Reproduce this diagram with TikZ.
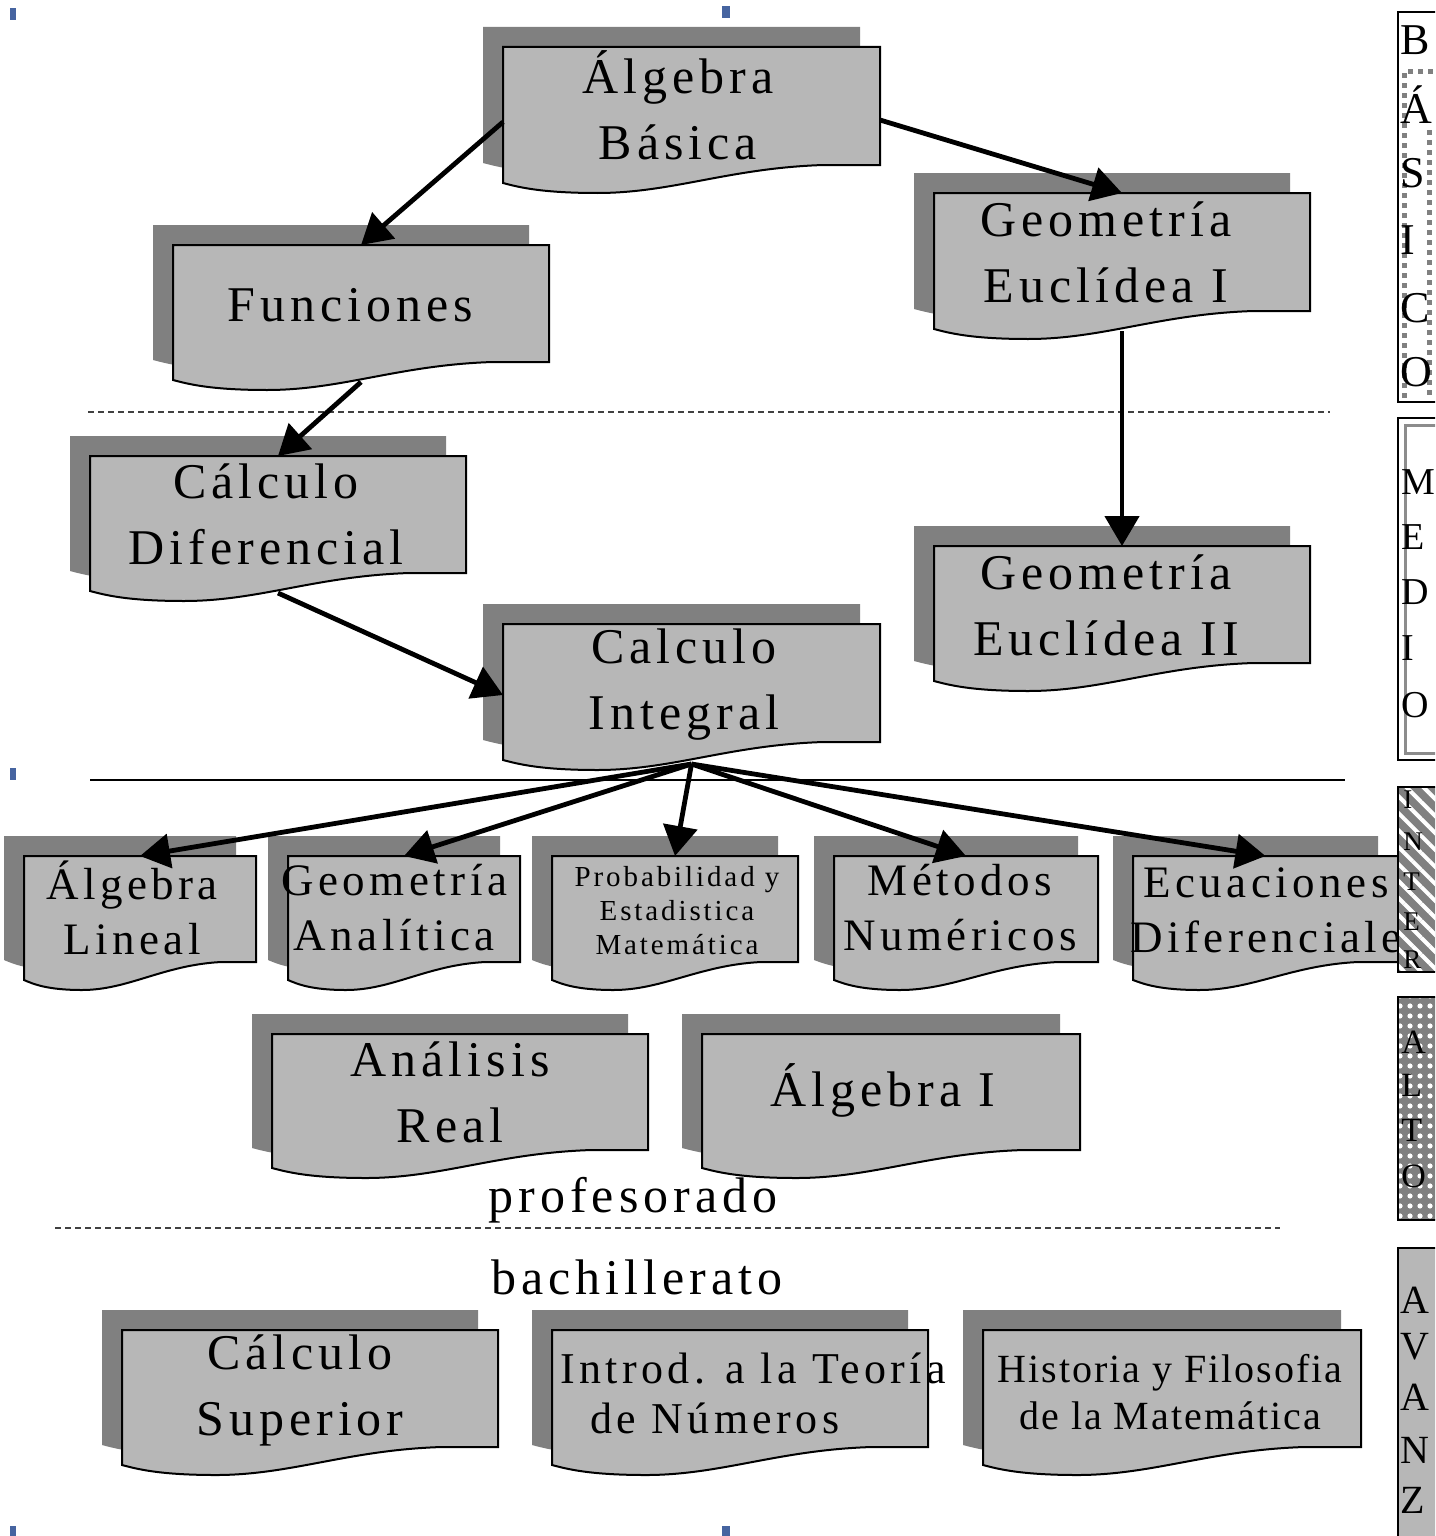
\documentclass[tikz,border=0pt]{standalone}
\usepackage{fontspec}
\setmainfont{Liberation Serif}
\newfontfamily\lsf{Liberation Serif}[LetterSpace=10]
\newfontfamily\lsg{Liberation Serif}[LetterSpace=5]
\usetikzlibrary{arrows.meta,calc,patterns.meta}
\definecolor{boxfill}{RGB}{183,183,183}
\definecolor{shadowcol}{RGB}{128,128,128}
\definecolor{handle}{RGB}{70,100,160}
\newcommand\mybig{\fontsize{25}{33}\selectfont\lsf}
\newcommand\mymid{\fontsize{22.5}{27.5}\selectfont\lsf}
\newcommand\mysmall{\fontsize{14.5}{17}\selectfont\lsf}
\newcommand\myintro{\fontsize{22}{25}\selectfont\lsf}
\newcommand\myhist{\fontsize{20}{23.5}\selectfont\lsg}
\tikzset{
  shadowpart/.style={fill=shadowcol},
  frontpart/.style={fill=boxfill, draw=black, line width=1pt},
  anchorbox/.style={inner sep=0pt, outer sep=0pt},
  lbl/.style={align=center, inner sep=0pt},
  arr/.style={line width=2.4pt, -{Triangle[length=15pt,width=17pt]}},
  sepline/.style={dash pattern=on 3pt off 2pt, line width=0.6pt, draw=black!75},
  legframe/.style={draw=black, line width=1pt},
  legletter/.style={anchor=west, inner sep=0pt},
}
% name, L, T, R, Rb  (pixel coordinates)
\newcommand\docbox[5]{%
  \pgfmathsetmacro\dbw{#4-#2}%
  \pgfmathsetmacro\dbwpt{(#4-#2)*0.5}%
  \pgfmathsetmacro\dbhpt{(#5-#3)*0.5}%
  \fill[shadowpart, shift={(-20,-20)}] (#2,#3) -- (#4,#3) -- (#4,#5) -- ({#2+0.85*\dbw},#5)
     .. controls ({#2+0.6*\dbw},{#5+3}) and ({#2+0.45*\dbw},{#5+28}) .. ({#2+0.25*\dbw},{#5+28})
     .. controls ({#2+0.1*\dbw},{#5+28}) and ({#2+0.04*\dbw},{#5+22}) .. (#2,{#5+18}) -- cycle;
  \path[frontpart] (#2,#3) -- (#4,#3) -- (#4,#5) -- ({#2+0.85*\dbw},#5)
     .. controls ({#2+0.6*\dbw},{#5+3}) and ({#2+0.45*\dbw},{#5+28}) .. ({#2+0.25*\dbw},{#5+28})
     .. controls ({#2+0.1*\dbw},{#5+28}) and ({#2+0.04*\dbw},{#5+22}) .. (#2,{#5+18}) -- cycle;
  \node[anchorbox, minimum width=\dbwpt pt, minimum height=\dbhpt pt] (#1) at ({(#2+#4)/2},{(#3+#5)/2}) {};%
}
\begin{document}
\begin{tikzpicture}[x=0.5pt, y=-0.5pt]
\useasboundingbox (0,0) rectangle (1435,1536);
\clip (0,0) rectangle (1435,1536);
\fill[white] (0,0) rectangle (1435,1536);

% selection handles
\fill[handle] (10,8) rectangle (16,20);
\fill[handle] (722,6) rectangle (730,18);
\fill[handle] (10,768) rectangle (16,780);
\fill[handle] (10,1526) rectangle (16,1536);
\fill[handle] (722,1526) rectangle (730,1536);

% separators
\draw[sepline] (88,412) -- (1330,412);
\draw[line width=0.6pt] (90,780) -- (1345,780);
\draw[sepline] (55,1228) -- (1280,1228);

% boxes
\docbox{ab}{503}{47}{880}{165}
\node[lbl, font=\mybig] (ab-t) at (678,105) {Álgebra\\Básica};
\docbox{ge1}{934}{193}{1310}{311}
\node[lbl, font=\mybig] (ge1-t) at (1106,252) {Geometría\\Euclídea I};
\docbox{fun}{173}{245}{549}{362}
\node[lbl, font=\mybig] (fun-t) at (350,305) {Funciones};
\docbox{cd}{90}{456}{466}{573}
\node[lbl, font=\mybig] (cd-t) at (266,514) {Cálculo\\Diferencial};
\docbox{ge2}{934}{546}{1310}{663}
\node[lbl, font=\mybig] (ge2-t) at (1106,605) {Geometría\\Euclídea II};
\docbox{ci}{503}{624}{880}{742}
\node[lbl, font=\mybig] (ci-t) at (684,685) {Calculo\\Integral};

\docbox{al}{24}{856}{256}{962}
\node[lbl, font=\mymid] (al-t) at (132,908) {Álgebra\\Lineal};
\docbox{ga}{288}{856}{520}{962}
\node[lbl, font=\mymid] (ga-t) at (394,908) {Geometría\\Analítica};
\docbox{pe}{552}{856}{798}{962}
\node[lbl, font=\mysmall] (pe-t) at (677,911) {Probabilidad y\\Estadistica\\Matemática};
\docbox{mn}{834}{856}{1098}{962}
\node[lbl, font=\mymid] (mn-t) at (960,908) {Métodos\\Numéricos};
\docbox{ed}{1133}{856}{1398}{962}
\node[lbl, font=\mymid] (ed-t) at (1266,910) {Ecuaciones\\Diferenciale};

\docbox{ar}{272}{1034}{648}{1150}
\node[lbl, font=\mybig] (ar-t) at (450,1092) {Análisis\\Real};
\docbox{aI}{702}{1034}{1080}{1150}
\node[lbl, font=\mybig] (aI-t) at (883,1090) {Álgebra I};

\node[lbl, font=\mybig] (prof) at (633,1200) {profesorado};
\node[lbl, font=\mybig] (bach) at (637,1277) {bachillerato};

\docbox{cs}{122}{1330}{498}{1447}
\node[lbl, font=\mybig] (cs-t) at (300,1390) {Cálculo\\Superior};
\docbox{itn}{552}{1330}{928}{1447}
\node[lbl, font=\myintro, align=left, anchor=west] (itn-t) at (560,1393) {Introd. a la Teoría\\\hspace*{15pt}de Números};
\docbox{hfm}{983}{1330}{1361}{1447}
\node[lbl, font=\myhist] (hfm-t) at (1170,1392) {Historia y Filosofia\\de la Matemática};

% legend bars
\fill[white] (1398,12) rectangle (1460,402);
\draw[shadowcol, line width=2.5pt, dash pattern=on 2.5pt off 2.5pt] (1404,398) -- (1404,72) -- (1440,72);
\draw[shadowcol, line width=2.5pt, dash pattern=on 2.5pt off 2.5pt] (1429,130) -- (1429,398);
\draw[legframe] (1398,12) rectangle (1460,402);
\foreach \ch/\yy in {B/40, Á/105, S/173, I/240, C/308, O/372}
  \node[legletter, font=\fontsize{22}{22}\selectfont] at (1400,\yy) {\ch};

\draw[legframe] (1398,418) rectangle (1460,760);
\draw[black!45, line width=1.5pt] (1405,425) rectangle (1460,753);
\foreach \ch/\yy in {M/482, E/537, D/592, I/648, O/705}
  \node[legletter, font=\fontsize{19}{19}\selectfont] at (1401,\yy) {\ch};

\fill[shadowcol] (1398,787) rectangle (1460,972);
\fill[pattern={Lines[angle=-45,distance=6pt,line width=2pt]}, pattern color=white] (1398,787) rectangle (1460,972);
\draw[legframe] (1398,787) rectangle (1460,972);
\foreach \ch/\yy in {I/800, N/842, T/882, E/922, R/960}
  \node[legletter, font=\fontsize{13.5}{13.5}\selectfont] at (1403,\yy) {\ch};

\fill[shadowcol] (1398,997) rectangle (1460,1220);
\fill[pattern={Dots[radius=1.3pt,distance=5pt]}, pattern color=white] (1398,997) rectangle (1460,1220);
\draw[legframe] (1398,997) rectangle (1460,1220);
\foreach \ch/\yy in {A/1042, L/1085, T/1130, O/1176}
  \node[legletter, font=\fontsize{17}{17}\selectfont] at (1401,\yy) {\ch};

\fill[boxfill] (1398,1248) rectangle (1460,1560);
\draw[legframe] (1398,1248) rectangle (1460,1560);
\foreach \ch/\yy in {A/1300, V/1347, A/1397, N/1450, Z/1500}
  \node[legletter, font=\fontsize{20}{20}\selectfont] at (1400,\yy) {\ch};

% connectors
\coordinate (ci-out) at ($(ci.south)+(0,22)$);
\draw[arr] ($(ab.west)+(0,16)$) -- (fun.north);
\draw[arr] ($(ab.east)+(0,14)$) -- (ge1.north);
\draw[arr] ($(fun.south)+(0,20)$) -- (cd.north);
\draw[arr] ($(ge1.south)+(0,20)$) -- (ge2.north);
\draw[arr] ($(cd.south)+(0,20)$) -- ($(ci.west)+(0,12)$);
\draw[arr] (ci-out) -- (al.north);
\draw[arr] (ci-out) -- (ga.north);
\draw[arr] (ci-out) -- (pe.north);
\draw[arr] (ci-out) -- (mn.north);
\draw[arr] (ci-out) -- (ed.north);
\end{tikzpicture}
\end{document}
